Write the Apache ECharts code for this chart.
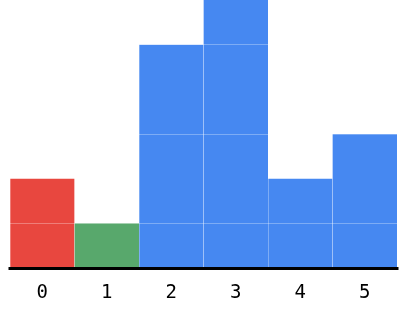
<!DOCTYPE html>
<html><head><meta charset="utf-8">
<script src="https://cdn.jsdelivr.net/npm/echarts@6/dist/echarts.min.js"></script>
<style>html,body{margin:0;padding:0;background:#fff}#c{width:407px;height:316px}</style>
</head><body><div id="c"></div>
<script>
const categories = ['0', '1', '2', '3', '4', '5'];
const values = [2, 1, 5, 6, 2, 3];
const barColors = ['#E8473F', '#58A86C', '#4688F1', '#4688F1', '#4688F1', '#4688F1'];

const chart = echarts.init(document.getElementById('c'), null, {renderer: 'canvas'});
chart.setOption({
  animation: false,
  backgroundColor: '#ffffff',
  grid: {left: 10, right: 10, top: 0, bottom: 48, containLabel: false},
  xAxis: {
    type: 'category',
    data: categories,
    z: 5,
    axisLine: {show: true, lineStyle: {color: '#000', width: 3, cap: 'square'}},
    axisTick: {show: false},
    axisLabel: {color: '#000', fontFamily: 'DejaVu Sans Mono', fontSize: 19, margin: 16},
    splitLine: {show: true, interval: 0, lineStyle: {color: 'rgba(255,255,255,0.3)', width: 1}}
  },
  yAxis: {
    type: 'value',
    min: 0, max: 6, interval: 1,
    z: 5,
    axisLine: {show: false},
    axisTick: {show: false},
    axisLabel: {show: false},
    splitLine: {show: true, lineStyle: {color: ['rgba(255,255,255,0)', 'rgba(255,255,255,0.3)'], width: 1}}
  },
  series: [{
    type: 'bar',
    barCategoryGap: '0%',
    data: values.map((v, i) => ({value: v, itemStyle: {color: barColors[i]}}))
  }]
});
</script></body></html>
